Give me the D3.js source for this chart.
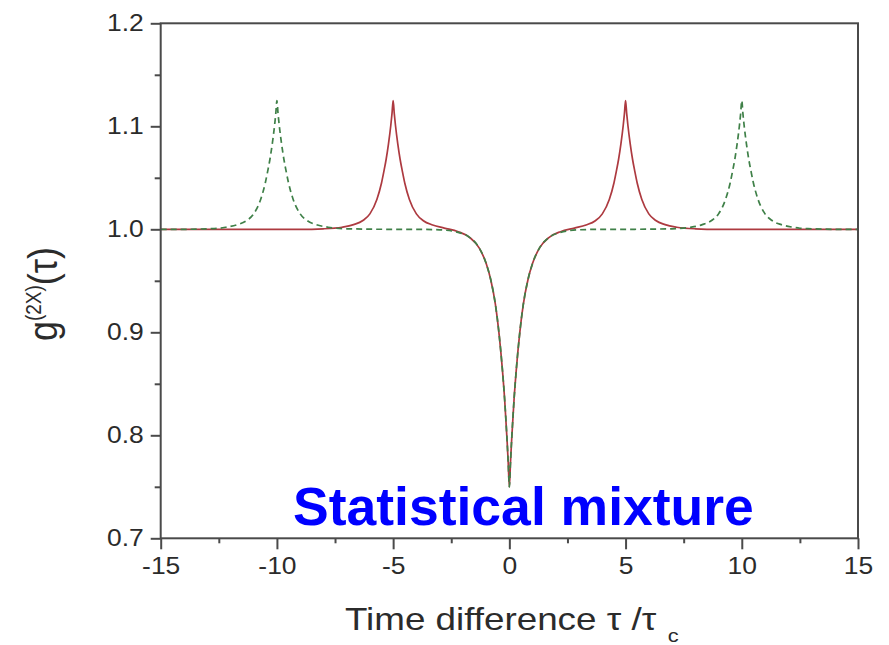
<!DOCTYPE html>
<html><head><meta charset="utf-8">
<script src="https://cdn.jsdelivr.net/npm/d3@7"></script>
<style>body{margin:0;background:#fff} svg{display:block}</style>
</head><body><svg id="c" width="889" height="645"></svg>
<script>
const xTicks=[-15,-10,-5,0,5,10,15];
const xMinorTicks=[-12.5,-7.5,-2.5,2.5,7.5,12.5];
const yTicks=[0.7,0.8,0.9,1.0,1.1,1.2];
const yMinorTicks=[0.75,0.85,0.95,1.05,1.15];

const redTau=[-15,-9,-8,-7.2,-6.7,-6.3,-6.0,-5.7,-5.5,-5.4,-5.3,-5.2,-5.1,-5.05,-5,-4.95,-4.9,-4.8,-4.7,-4.6,-4.5,-4.3,-4.0,-3.7,-3.3,-2.8,-2.2,-1.7,-1.3,-1.0,-0.8,-0.6,-0.45,-0.3,-0.2,-0.1,-0.05,0,
0.05,0.1,0.2,0.3,0.45,0.6,0.8,1.0,1.3,1.7,2.2,2.8,3.3,3.7,4.0,4.3,4.5,4.6,4.7,4.8,4.9,4.95,5,5.05,5.1,5.2,5.3,5.4,5.5,5.7,6.0,6.3,6.7,7.2,8,9,15];
const redG=[1.000,1.000,1.0005,1.002,1.0045,1.0085,1.015,1.029,1.045,1.056,1.068,1.083,1.101,1.112,1.125,1.112,1.101,1.083,1.068,1.056,1.045,1.029,1.015,1.0083,1.0042,1.0012,0.9977,0.992,0.982,0.967,0.951,0.927,0.900,0.864,0.834,0.796,0.774,0.750,
0.774,0.796,0.834,0.864,0.900,0.927,0.951,0.967,0.982,0.992,0.9977,1.0012,1.0042,1.0083,1.015,1.029,1.045,1.056,1.068,1.083,1.101,1.112,1.125,1.112,1.101,1.083,1.068,1.056,1.045,1.029,1.015,1.0085,1.0045,1.002,1.0005,1.000,1.000];

const greenTau=[-15,-14,-13,-12.5,-12.2,-11.7,-11.3,-11.0,-10.7,-10.5,-10.4,-10.3,-10.2,-10.1,-10.05,-10,-9.95,-9.9,-9.8,-9.7,-9.6,-9.5,-9.3,-9.0,-8.7,-8.3,-7.8,-7.0,-5.0,-4.0,-3.0,-2.2,-1.7,-1.3,-1.0,-0.8,-0.6,-0.45,-0.3,-0.2,-0.1,-0.05,0,
0.05,0.1,0.2,0.3,0.45,0.6,0.8,1.0,1.3,1.7,2.2,3.0,4.0,5.0,7.0,7.8,8.3,8.7,9.0,9.3,9.5,9.6,9.7,9.8,9.9,9.95,10,10.05,10.1,10.2,10.3,10.4,10.5,10.7,11.0,11.3,11.7,12.2,12.5,13,14,15];
const greenG=[1.000,1.000,1.0005,1.001,1.002,1.0045,1.0085,1.015,1.029,1.045,1.056,1.068,1.083,1.101,1.112,1.125,1.112,1.101,1.083,1.068,1.056,1.045,1.029,1.015,1.0085,1.0045,1.002,1.0005,1.000,1.000,0.9995,0.997,0.992,0.982,0.967,0.951,0.927,0.900,0.864,0.834,0.796,0.774,0.750,
0.774,0.796,0.834,0.864,0.900,0.927,0.951,0.967,0.982,0.992,0.997,0.9995,1.000,1.000,1.0005,1.002,1.0045,1.0085,1.015,1.029,1.045,1.056,1.068,1.083,1.101,1.112,1.125,1.112,1.101,1.083,1.068,1.056,1.045,1.029,1.015,1.0085,1.0045,1.002,1.001,1.0005,1.000,1.000];

const svg=d3.select("#c");
const L=160.7,R=858,T=23.3,B=538.3;
const x=d3.scaleLinear().domain([-15,15]).range([L,R]);
const y=d3.scaleLinear().domain([0.7,1.2]).range([B,T]);
const SX=1.15;
const axisColor="#4a4a4a", textColor="#2b2b2b";
const fontFam="'Liberation Sans', Arial, sans-serif";

// curves
const line=d3.line().x(d=>x(d[0])).y(d=>y(d[1])).curve(d3.curveMonotoneX);
const red=redTau.map((t,i)=>[t,redG[i]]);
const green=greenTau.map((t,i)=>[t,greenG[i]]);
svg.append("path").datum(red).attr("d",line).attr("fill","none")
  .attr("stroke","#ad3a40").attr("stroke-width",1.7);
svg.append("path").datum(green).attr("d",line).attr("fill","none")
  .attr("stroke","#3f8048").attr("stroke-width",1.7).attr("stroke-dasharray","6,4");

// frame
svg.append("rect").attr("x",L).attr("y",T).attr("width",R-L).attr("height",B-T)
  .attr("fill","none").attr("stroke",axisColor).attr("stroke-width",2);

// axes
const yAxis=d3.axisLeft(y).tickValues(yTicks).tickSize(10).tickPadding(6).tickFormat(d=>d.toFixed(1));
const gy=svg.append("g").attr("transform",`translate(${L},0)`).call(yAxis);
const yMinor=d3.axisLeft(y).tickValues(yMinorTicks).tickSize(6).tickFormat("");
const gym=svg.append("g").attr("transform",`translate(${L},0)`).call(yMinor);
const xAxis=d3.axisBottom(x).tickValues(xTicks).tickSize(11).tickPadding(6).tickFormat(d=>String(d));
const gx=svg.append("g").attr("transform",`translate(0,${B})`).call(xAxis);
const xMinor=d3.axisBottom(x).tickValues(xMinorTicks).tickSize(5).tickFormat("");
const gxm=svg.append("g").attr("transform",`translate(0,${B})`).call(xMinor);
[gy,gym,gx,gxm].forEach(g=>{
  g.select(".domain").remove();
  g.selectAll("line").attr("stroke",axisColor).attr("stroke-width",2);
  g.selectAll("text").attr("fill",textColor).attr("font-size",23).attr("font-family",fontFam);
});
gy.selectAll("text").attr("x",-17/SX).attr("transform",`scale(${SX},1)`);
gx.selectAll("text").attr("transform",`scale(${SX},1)`).attr("dy","0.75em").attr("y",18);

// x title
const xt=svg.append("g").attr("transform",`translate(345,630) scale(${SX},1)`)
  .append("text").attr("font-family",fontFam).attr("fill",textColor).attr("font-size",32);
xt.append("tspan").text("Time difference τ /τ");
xt.append("tspan").attr("font-size",19).attr("dx",10).attr("dy",12).text("c");

// y title
const yt=svg.append("g").attr("transform",`translate(57,294) scale(${SX},1) rotate(-90)`)
  .append("text").attr("text-anchor","middle").attr("font-family",fontFam).attr("fill",textColor).attr("font-size",36);
yt.append("tspan").text("g");
yt.append("tspan").attr("font-size",19).attr("dy",-14).text("(2X)");
yt.append("tspan").attr("dy",14).text("(τ)");

// annotation
svg.append("text").attr("x",293).attr("y",525).attr("font-family",fontFam).attr("font-weight","bold")
  .attr("font-size",53.5).attr("fill","#0000ff").text("Statistical mixture");
</script></body></html>
